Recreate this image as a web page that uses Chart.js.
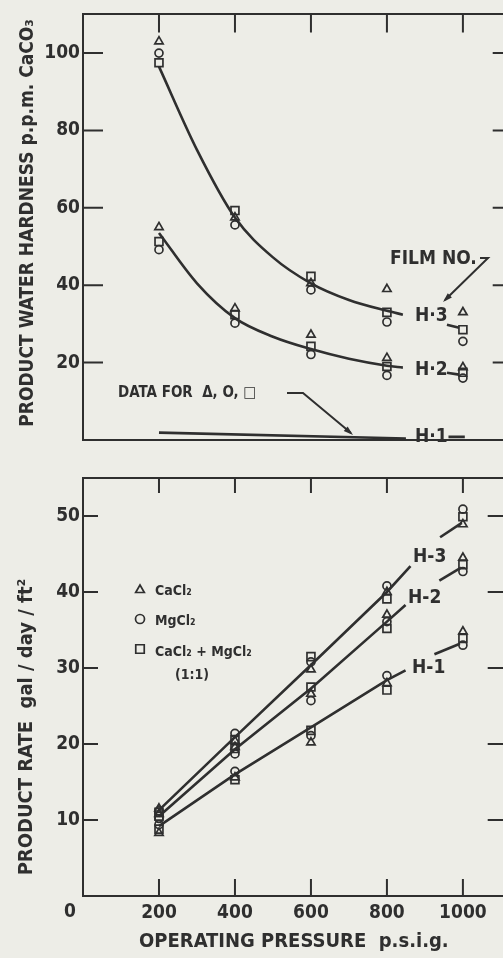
<!DOCTYPE html>
<html>
<head>
<meta charset="utf-8">
<script src="https://cdn.jsdelivr.net/npm/chart.js@4/dist/chart.umd.min.js"></script>
<style>
  html, body { margin: 0; overflow: hidden; background: #ededE7; }
  canvas { position: absolute; left: 0; }
  #top { top: 0; }
  #bottom { top: 460px; }
</style>
</head>
<body>
<canvas id="top" width="512" height="460"></canvas>
<canvas id="bottom" width="512" height="498"></canvas>
<script>
// operating pressure, p.s.i.g.
var pressure = [200, 400, 600, 800, 1000];

// top panel: product water hardness, ppm CaCO3
var hardH3CaCl2 = [103, 57.5, 40.5, 39, 33];
var hardH3MgCl2 = [100, 55.6, 38.8, 30.5, 25.5];
var hardH3Mix = [97.5, 59.3, 42.3, 33, 28.5];
var hardH2CaCl2 = [55, 34, 27.2, 21.2, 18.8];
var hardH2MgCl2 = [49.2, 30.2, 22.1, 16.7, 16];
var hardH2Mix = [51.3, 32.4, 24.2, 19, 17.5];

// fitted curves, top panel
var fitPressure = [200, 300, 400, 500, 600, 700, 800, 842];
var fitH3 = [96.5, 75, 57.5, 47.2, 40.5, 36.2, 33.4, 32.4];
var fitH2 = [53.5, 40.5, 31.5, 26.7, 23.5, 21, 19.2, 18.7];
var fitH1Pressure = [200, 850];
var fitH1 = [1.9, 0.4];
var tailPressure = [958, 990];
var tailH3 = [29.8, 29];
var tailH2 = [17.4, 16.9];
var tailH1Pressure = [962, 1005];
var tailH1 = [0.8, 0.8];

// bottom panel: product rate, gal/day/ft2
var rateH3CaCl2 = [11.5, 20.4, 29.8, 40, 48.9];
var rateH3MgCl2 = [11.2, 21.4, 30.8, 40.8, 50.9];
var rateH3Mix = [11, 20.6, 31.5, 39.1, 49.9];
var rateH2CaCl2 = [10.8, 19.6, 26.6, 37, 44.5];
var rateH2MgCl2 = [10.2, 18.7, 25.7, 36.1, 42.7];
var rateH2Mix = [10.5, 19.4, 27.5, 35.2, 43.6];
var rateH1CaCl2 = [8.3, 15.6, 20.2, 28, 34.8];
var rateH1MgCl2 = [9.4, 16.4, 21.1, 29, 33];
var rateH1Mix = [8.8, 15.3, 21.8, 27.1, 33.9];

// drawn lines, bottom panel
var rateLineH3Pressure = [200, 400, 600, 800, 862];
var rateLineH3 = [11.3, 20.9, 30.4, 40, 43.4];
var rateLinePressure = [200, 400, 600, 800, 849];
var rateLineH2 = [10.5, 19.3, 27.3, 36.1, 38.3];
var rateLineH1 = [9.2, 16, 22.2, 28.4, 29.7];
var rateTailH3Pressure = [940, 997];
var rateTailH3 = [47.2, 49.1];
var rateTailH2Pressure = [938, 995];
var rateTailH2 = [41.5, 43.2];
var rateTailH1Pressure = [925, 992];
var rateTailH1 = [31.8, 33.2];

var xTicks = [0, 200, 400, 600, 800, 1000];

var ink = '#2f2f2f';
var face = '"DejaVu Sans Condensed", "DejaVu Sans", sans-serif';
var weight = 'bold';

function pts(xs, ys) {
    return xs.map(function (x, i) { return { x: x, y: ys[i] }; });
}

function markers(ys, style, r) {
    return {
        data: pts(pressure, ys),
        showLine: false,
        pointStyle: style,
        pointRadius: r,
        borderColor: ink,
        backgroundColor: 'rgba(0,0,0,0)',
        borderWidth: 1.7
    };
}

function curve(xs, ys, smooth) {
    return {
        data: pts(xs, ys),
        showLine: true,
        pointRadius: 0,
        borderColor: ink,
        borderWidth: 2.6,
        cubicInterpolationMode: smooth ? 'monotone' : 'default',
        tension: 0,
        fill: false
    };
}

function frameScale(pos, size) {
    return {
        position: pos,
        type: 'linear',
        ticks: { display: false },
        grid: { drawOnChartArea: false, drawTicks: false },
        border: { display: true, color: ink, width: 2 },
        afterFit: function (s) {
            if (pos === 'top' || pos === 'bottom') s.height = size; else s.width = size;
        }
    };
}

function arrowHead(ctx, x0, y0, x1, y1) {
    var a = Math.atan2(y1 - y0, x1 - x0);
    ctx.beginPath();
    ctx.moveTo(x1, y1);
    ctx.lineTo(x1 - 10 * Math.cos(a - 0.3), y1 - 10 * Math.sin(a - 0.3));
    ctx.lineTo(x1 - 10 * Math.cos(a + 0.3), y1 - 10 * Math.sin(a + 0.3));
    ctx.closePath();
    ctx.fill();
}

// tick marks pointing into the frame
function innerTicks(chart, len) {
    var ctx = chart.ctx, a = chart.chartArea;
    var xs = chart.scales.x, ys = chart.scales.y;
    ctx.save();
    ctx.strokeStyle = ink;
    ctx.lineWidth = 2;
    ctx.beginPath();
    xs.ticks.forEach(function (t) {
        if (t.value === 0) return;
        var px = xs.getPixelForValue(t.value);
        ctx.moveTo(px, a.top); ctx.lineTo(px, a.top + len.top);
        if (len.bottom) { ctx.moveTo(px, a.bottom); ctx.lineTo(px, a.bottom - len.bottom); }
    });
    ys.ticks.forEach(function (t) {
        if (t.value === 0) return;
        var py = ys.getPixelForValue(t.value);
        ctx.moveTo(a.left, py); ctx.lineTo(a.left + len.left, py);
        ctx.moveTo(a.right, py); ctx.lineTo(a.right - len.right, py);
    });
    ctx.stroke();
    ctx.restore();
}

function font(size) {
    return weight + ' ' + size + 'px ' + face;
}

function vText(ctx, text, x, y, size) {
    ctx.save();
    ctx.translate(x, y);
    ctx.rotate(-Math.PI / 2);
    ctx.font = font(size);
    ctx.textAlign = 'center';
    ctx.textBaseline = 'middle';
    ctx.fillText(text, 0, 0);
    ctx.restore();
}

var topNotes = {
    id: 'topNotes',
    afterDraw: function (chart) {
        var ctx = chart.ctx;
        innerTicks(chart, { top: 18, left: 20, right: 12 });
        ctx.save();
        ctx.fillStyle = ink;
        ctx.strokeStyle = ink;
        ctx.lineWidth = 2;
        vText(ctx, 'PRODUCT WATER HARDNESS p.p.m. CaCO\u2083', 28, 223, 19);
        ctx.textBaseline = 'middle';
        ctx.font = font(19);
        ctx.fillText('FILM NO.', 390, 259);
        ctx.fillText('H\u00b73', 415, 316);
        ctx.fillText('H\u00b72', 415, 370);
        ctx.fillText('H\u00b71', 415, 437);
        ctx.font = font(15);
        ctx.fillText('DATA FOR  \u0394, O, \u25a1', 118, 393);
        ctx.beginPath();
        ctx.moveTo(480, 258); ctx.lineTo(488, 258); ctx.lineTo(445, 300);
        ctx.moveTo(287, 393); ctx.lineTo(303, 393); ctx.lineTo(351, 433);
        ctx.stroke();
        arrowHead(ctx, 488, 258, 443, 302);
        arrowHead(ctx, 303, 393, 353, 435);
        ctx.restore();
    }
};

var bottomNotes = {
    id: 'bottomNotes',
    afterDraw: function (chart) {
        var ctx = chart.ctx;
        innerTicks(chart, { top: 15, bottom: 17, left: 15, right: 17 });
        ctx.save();
        ctx.fillStyle = ink;
        ctx.strokeStyle = ink;
        vText(ctx, 'PRODUCT RATE  gal / day / ft\u00b2', 27, 267, 20);
        ctx.textBaseline = 'middle';
        ctx.font = font(19);
        ctx.textAlign = 'center';
        ctx.fillText('0', 70, 452);
        ctx.textAlign = 'left';
        ctx.fillText('H-3', 413, 97);
        ctx.fillText('H-2', 408, 138);
        ctx.fillText('H-1', 412, 208);
        // key
        ctx.font = font(14);
        ctx.fillText('CaCl\u2082', 155, 131);
        ctx.fillText('MgCl\u2082', 155, 161);
        ctx.fillText('CaCl\u2082 + MgCl\u2082', 155, 192);
        ctx.fillText('(1:1)', 175, 215);
        ctx.fillStyle = 'rgba(0,0,0,0)';
        ctx.lineWidth = 1.7;
        var draw = Chart.helpers.drawPoint;
        draw(ctx, { pointStyle: 'triangle', radius: 5, borderWidth: 1.7, rotation: 0 }, 140, 130);
        draw(ctx, { pointStyle: 'circle', radius: 4.5, borderWidth: 1.7, rotation: 0 }, 140, 159);
        draw(ctx, { pointStyle: 'rect', radius: 6, borderWidth: 1.7, rotation: 0 }, 140, 189);
        ctx.restore();
    }
};

function xScale(opts) {
    var s = {
        type: 'linear', position: 'bottom', min: 0, max: 1110,
        afterBuildTicks: function (sc) { sc.ticks = xTicks.map(function (v) { return { value: v }; }); },
        grid: { drawOnChartArea: false, drawTicks: false },
        border: { display: true, color: ink, width: 2 },
        ticks: {
            display: opts.labels, padding: 6, color: ink,
            font: { family: face, size: 19, weight: weight },
            callback: function (v) { return v === 0 ? '' : v; }
        },
        afterFit: function (sc) { sc.height = opts.height; }
    };
    if (opts.title) {
        s.title = {
            display: true, text: opts.title, color: ink,
            font: { family: face, size: 20, weight: weight }, padding: { top: 0, bottom: 4 }
        };
    }
    return s;
}

function yScale(max, step) {
    return {
        type: 'linear', position: 'left', min: 0, max: max,
        grid: { drawOnChartArea: false, drawTicks: false },
        border: { display: true, color: ink, width: 2 },
        ticks: {
            stepSize: step, includeBounds: false, padding: 3, color: ink,
            font: { family: face, size: 19, weight: weight },
            callback: function (v) { return v === 0 ? '' : v; }
        },
        afterFit: function (sc) { sc.width = 83; }
    };
}

var common = {
    responsive: false,
    animation: false,
    devicePixelRatio: 1,
    layout: { padding: 0 },
    plugins: { legend: { display: false }, tooltip: { enabled: false } }
};

new Chart(document.getElementById('top').getContext('2d'), {
    type: 'scatter',
    data: {
        datasets: [
            curve(fitPressure, fitH3, true),
            curve(fitPressure, fitH2, true),
            curve(fitH1Pressure, fitH1, false),
            curve(tailPressure, tailH3, false),
            curve(tailPressure, tailH2, false),
            curve(tailH1Pressure, tailH1, false),
            markers(hardH3CaCl2, 'triangle', 4.8),
            markers(hardH3MgCl2, 'circle', 4),
            markers(hardH3Mix, 'rect', 5.6),
            markers(hardH2CaCl2, 'triangle', 4.8),
            markers(hardH2MgCl2, 'circle', 4),
            markers(hardH2Mix, 'rect', 5.6)
        ]
    },
    options: Object.assign({}, common, {
        scales: {
            x: xScale({ labels: false, height: 20 }),
            x2: frameScale('top', 14),
            y: yScale(110, 20),
            y2: frameScale('right', 2)
        }
    }),
    plugins: [topNotes]
});

new Chart(document.getElementById('bottom').getContext('2d'), {
    type: 'scatter',
    data: {
        datasets: [
            curve(rateLineH3Pressure, rateLineH3, false),
            curve(rateLinePressure, rateLineH2, false),
            curve(rateLinePressure, rateLineH1, false),
            curve(rateTailH3Pressure, rateTailH3, false),
            curve(rateTailH2Pressure, rateTailH2, false),
            curve(rateTailH1Pressure, rateTailH1, false),
            markers(rateH3CaCl2, 'triangle', 4.8),
            markers(rateH3MgCl2, 'circle', 4),
            markers(rateH3Mix, 'rect', 5.6),
            markers(rateH2CaCl2, 'triangle', 4.8),
            markers(rateH2MgCl2, 'circle', 4),
            markers(rateH2Mix, 'rect', 5.6),
            markers(rateH1CaCl2, 'triangle', 4.8),
            markers(rateH1MgCl2, 'circle', 4),
            markers(rateH1Mix, 'rect', 5.6)
        ]
    },
    options: Object.assign({}, common, {
        scales: {
            x: xScale({ labels: true, height: 62, title: 'OPERATING PRESSURE  p.s.i.g.' }),
            x2: frameScale('top', 18),
            y: yScale(55, 10),
            y2: frameScale('right', 2)
        }
    }),
    plugins: [bottomNotes]
});
</script>
</body>
</html>
